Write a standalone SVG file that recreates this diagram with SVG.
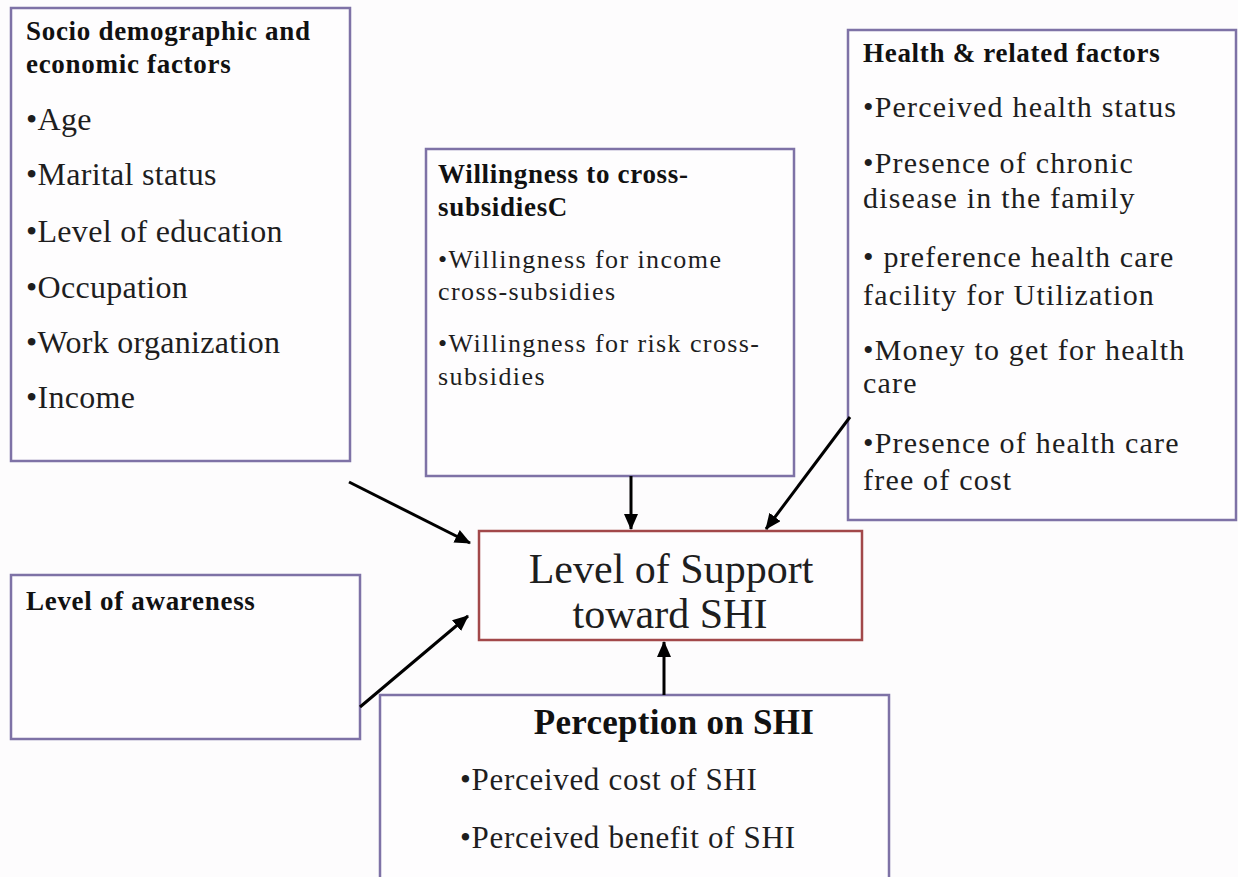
<svg xmlns="http://www.w3.org/2000/svg" width="1238" height="877" viewBox="0 0 1238 877">
<style>
.box{fill:#fefdfe;stroke:#7e72a6;stroke-width:2.5}
.main{fill:#fefdfe;stroke:#a2484a;stroke-width:2.5}
.h{font-family:"Liberation Serif",serif;font-weight:bold;fill:#111;font-size:27px;letter-spacing:0.7px}
.big{font-size:35px;letter-spacing:0.3px}
.b{font-family:"Liberation Serif",serif;fill:#1e1e1e}
.conn{stroke:#000;stroke-width:3;fill:none;marker-end:url(#ah)}
</style>
<defs>
<marker id="ah" markerUnits="userSpaceOnUse" markerWidth="18" markerHeight="14" refX="15" refY="7" orient="auto">
<path d="M0,0 L16,7 L0,14 Z" fill="#000"/>
</marker>
</defs>
<rect x="0" y="0" width="1238" height="877" fill="#fdfcfd"/>

<g id="socio">
<rect class="box" x="11" y="8" width="339" height="453"/>
<text class="h" x="26" y="40">Socio demographic and</text>
<text class="h" x="26" y="73">economic factors</text>
<g class="b" font-size="32" letter-spacing="0.3">
<text x="26" y="130">•Age</text>
<text x="26" y="185">•Marital status</text>
<text x="26" y="242">•Level of education</text>
<text x="26" y="298">•Occupation</text>
<text x="26" y="353">•Work organization</text>
<text x="26" y="408">•Income</text>
</g>
</g>

<g id="willingness">
<rect class="box" x="426" y="149" width="368" height="327"/>
<text class="h" x="438" y="183">Willingness to cross-</text>
<text class="h" x="438" y="216">subsidiesC</text>
<g class="b" font-size="26" letter-spacing="1.4">
<text x="438" y="268">•Willingness for income</text>
<text x="438" y="300">cross-subsidies</text>
<text x="438" y="352">•Willingness for risk cross-</text>
<text x="438" y="385">subsidies</text>
</g>
</g>

<g id="health">
<rect class="box" x="848" y="30" width="388" height="490"/>
<text class="h" x="863" y="62">Health &amp; related factors</text>
<g class="b" font-size="30" letter-spacing="1.2">
<text x="863" y="117">•Perceived health status</text>
<text x="863" y="173">•Presence of chronic</text>
<text x="863" y="208">disease in the family</text>
<text x="863" y="267">• preference health care</text>
<text x="863" y="305">facility for Utilization</text>
<text x="863" y="360">•Money to get for health</text>
<text x="863" y="393">care</text>
<text x="863" y="453">•Presence of health care</text>
<text x="863" y="490">free of cost</text>
</g>
</g>

<g id="awareness">
<rect class="box" x="11" y="575" width="349" height="164"/>
<text class="h" x="26" y="610">Level of awareness</text>
</g>

<g id="perception">
<rect class="box" x="380" y="695" width="509" height="200"/>
<text class="h big" x="674" y="734" text-anchor="middle">Perception on SHI</text>
<g class="b" font-size="31" letter-spacing="0.7">
<text x="460" y="790">•Perceived cost of SHI</text>
<text x="460" y="848">•Perceived benefit of SHI</text>
</g>
</g>

<g id="support">
<rect class="main" x="479" y="531" width="383" height="109"/>
<g class="b" font-size="42" text-anchor="middle" fill="#222">
<text x="671" y="583">Level of Support</text>
<text x="670" y="628">toward SHI</text>
</g>
</g>

<g id="connectors">
<line class="conn" x1="349" y1="482" x2="470" y2="543"/>
<line class="conn" x1="631" y1="476" x2="631" y2="529"/>
<line class="conn" x1="850" y1="417" x2="766" y2="529"/>
<line class="conn" x1="360" y1="707" x2="468" y2="616"/>
<line class="conn" x1="664" y1="695" x2="664" y2="642"/>
</g>
</svg>
